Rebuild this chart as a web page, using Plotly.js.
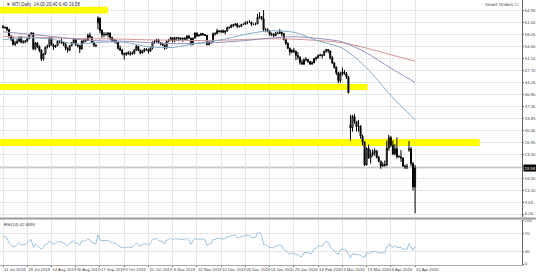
<!DOCTYPE html>
<html><head><meta charset="utf-8">
<script src="https://cdn.plot.ly/plotly-3.0.1.min.js"></script>
<style>html,body{margin:0;padding:0;background:#fff;}#chart{width:536px;height:273px;}</style>
</head><body><div id="chart"></div>
<script>
// ---- data ----
const symbolLabel = "WTI,Daily";
const openP = [60.4,60.2,60.2,59.6,57.6,56.8,55.3,55.6,56.2,57.3,
55.9,56.0,56.2,56.9,58.1,58.6,54.0,55.7,54.7,53.6,
51.1,52.5,54.5,54.9,57.1,55.2,54.5,54.9,56.2,56.3,
55.7,55.4,54.2,53.6,54.9,55.8,56.7,55.1,54.9,53.9,
56.3,56.3,56.5,57.9,57.4,55.8,55.1,61.5,62.9,59.3,
58.1,58.1,58.1,58.6,57.3,56.5,56.4,55.9,54.1,53.6,
52.6,52.4,52.8,52.7,52.6,52.6,53.6,54.7,53.6,52.8,
53.4,53.9,53.8,53.3,54.2,56.0,56.2,56.7,55.8,55.5,
55.1,54.2,56.2,56.5,57.2,56.4,57.2,57.2,56.9,56.8,
57.1,56.8,57.7,57.1,55.2,57.1,58.6,57.8,58.0,58.4,
58.1,57.9,55.2,56.0,56.1,58.4,58.4,59.2,59.0,59.2,
58.8,59.2,60.1,60.2,60.9,60.9,61.2,60.4,60.5,61.1,
61.1,61.7,61.7,61.7,61.1,61.1,61.2,63.1,63.3,62.7,
59.6,59.6,59.0,58.1,58.2,57.8,58.5,58.5,58.8,58.4,
56.7,55.6,54.2,53.1,53.5,53.3,52.1,51.6,50.1,49.6,
50.8,50.9,50.3,49.6,49.9,51.2,51.4,52.1,52.2,52.1,
53.3,53.8,53.4,51.4,49.9,48.7,47.1,44.8,46.8,47.2,
46.8,45.9,32.0,31.1,34.4,33.0,31.5,31.7,28.7,27.0,
20.4,25.2,22.4,23.4,24.0,24.5,22.6,21.5,20.1,20.5,
20.3,25.3,28.3,26.1,23.6,25.1,22.8,22.8,22.4,20.1,
19.9,24.8,25.0,20.8,14.0];
const highP = [60.9,60.5,60.4,59.8,58.0,57.5,56.3,56.8,57.4,57.7,
56.5,56.5,57.2,58.2,58.8,58.7,56.0,55.9,55.0,53.9,
52.8,54.6,55.2,57.4,57.3,55.5,55.2,56.5,56.6,56.9,
56.0,55.9,54.5,55.1,56.0,56.9,56.8,55.3,55.0,56.4,
57.0,56.9,58.4,58.7,57.6,56.2,55.3,63.4,63.0,59.7,
58.9,58.8,58.8,58.7,57.5,56.9,56.7,56.0,54.9,54.0,
52.9,53.0,53.4,53.3,53.3,54.0,55.1,54.8,53.8,53.7,
54.2,54.2,54.1,54.5,56.1,56.5,56.9,56.9,55.9,55.8,
55.2,56.3,56.8,57.5,57.3,57.5,57.4,57.3,57.4,57.2,
57.3,57.9,58.0,57.2,57.2,58.7,58.7,58.2,58.5,58.6,
58.3,58.0,56.2,56.3,58.7,58.8,59.8,59.4,59.4,59.6,
59.3,60.4,60.5,61.0,61.2,61.4,61.5,60.8,61.2,61.3,
61.9,62.0,62.3,61.9,61.3,61.6,64.1,64.6,63.5,65.2,
60.0,59.9,59.3,58.7,58.6,58.9,59.0,59.7,59.0,58.6,
56.9,55.9,54.3,53.9,54.3,53.5,53.1,51.8,50.9,51.3,
51.6,51.1,50.5,50.4,51.4,51.8,52.3,52.6,52.4,53.5,
54.0,53.9,53.5,51.9,50.2,48.9,47.4,47.4,48.6,47.9,
47.3,46.1,34.9,34.9,35.1,33.1,33.4,31.8,29.2,27.3,
25.5,26.3,24.8,24.9,25.2,24.6,23.0,21.6,21.2,21.7,
27.4,29.1,28.8,27.5,26.4,28.4,23.2,24.7,22.6,20.5,
20.7,27.3,25.6,21.2,20.4];
const lowP = [59.9,59.7,59.1,57.2,56.2,55.0,54.8,55.5,55.9,55.6,
55.5,55.6,55.9,56.8,57.9,53.6,53.6,54.2,53.0,50.5,
50.6,52.3,54.1,54.4,54.9,53.7,54.3,54.8,55.6,55.5,
54.8,53.6,52.9,53.4,54.7,55.6,54.9,54.4,52.8,53.8,
55.6,55.9,56.4,57.2,55.6,54.5,54.5,59.6,58.5,57.2,
57.4,57.9,57.3,56.6,55.9,55.7,55.4,53.8,53.4,52.1,
50.9,52.0,52.2,52.0,52.3,52.4,53.5,53.3,52.4,52.6,
53.0,53.4,52.6,53.1,53.8,55.4,55.8,55.6,55.0,54.8,
53.7,54.1,55.9,56.3,55.8,55.9,56.3,56.2,56.5,56.0,
56.5,56.6,56.9,55.0,55.1,56.9,57.4,57.5,57.7,57.8,
57.7,55.0,55.0,55.4,56.0,57.8,58.2,58.7,58.5,58.6,
58.2,58.9,59.8,60.0,60.3,60.6,60.1,60.2,60.3,61.0,
61.0,61.1,61.5,60.6,61.0,60.8,61.2,62.7,62.3,59.0,
58.8,58.8,57.8,57.7,57.4,57.7,58.3,58.3,57.7,56.4,
55.1,53.9,52.1,52.7,52.8,50.7,50.9,49.4,49.3,49.3,
50.3,49.9,49.3,49.4,49.9,50.6,51.1,51.8,51.2,52.0,
52.9,52.8,50.9,49.7,48.3,46.4,44.0,44.2,46.2,46.5,
45.3,41.1,27.4,30.0,32.3,30.1,30.0,28.0,26.1,20.1,
20.3,22.2,20.8,22.8,23.1,22.3,21.2,19.3,19.9,19.9,
20.2,24.5,25.6,23.3,23.2,22.2,22.5,21.3,19.9,19.2,
19.2,24.2,20.0,13.0,6.4];
const closeP = [60.2,60.2,59.6,57.6,56.8,55.3,55.6,56.2,57.3,55.9,
56.0,56.2,56.9,58.1,58.6,54.0,55.7,54.7,53.6,51.1,
52.5,54.5,54.9,57.1,55.2,54.5,54.9,56.2,56.3,55.7,
55.4,54.2,53.6,54.9,55.8,56.7,55.1,54.9,53.9,56.3,
56.3,56.5,57.9,57.4,55.8,55.1,54.9,62.9,59.3,58.1,
58.1,58.1,58.6,57.3,56.5,56.4,55.9,54.1,53.6,52.6,
52.4,52.8,52.7,52.6,52.6,53.6,54.7,53.6,52.8,53.4,
53.9,53.8,53.3,54.2,56.0,56.2,56.7,55.8,55.5,55.1,
54.2,56.2,56.5,57.2,56.4,57.2,57.2,56.9,56.8,57.1,
56.8,57.7,57.1,55.2,57.1,58.6,57.8,58.0,58.4,58.1,
57.9,55.2,56.0,56.1,58.4,58.4,59.2,59.0,59.2,58.8,
59.2,60.1,60.2,60.9,60.9,61.2,60.4,60.5,61.1,61.1,
61.7,61.7,61.7,61.1,61.1,61.2,63.1,63.3,62.7,59.6,
59.6,59.0,58.1,58.2,57.8,58.5,58.5,58.8,58.4,56.7,
55.6,54.2,53.1,53.5,53.3,52.1,51.6,50.1,49.6,50.8,
50.9,50.3,49.6,49.9,51.2,51.4,52.1,52.2,52.1,53.3,
53.8,53.4,51.4,49.9,48.7,47.1,44.8,46.8,47.2,46.8,
45.9,41.3,31.1,34.4,33.0,31.5,31.7,28.7,27.0,20.4,
25.2,22.4,23.4,24.0,24.5,22.6,21.5,20.1,20.5,20.3,
25.3,28.3,26.1,23.6,25.1,22.8,22.8,22.4,20.1,19.9,
19.9,25.0,20.8,14.0,19.58];
// closes of the 15 sessions before the first bar (RSI warm-up)
const priorCloses = [57.07,57.43,57.90,57.83,59.38,59.43,58.47,59.09,56.25,57.34,57.50,57.51,57.66,57.83,60.43];

// moving averages read every 12 bars
const maSampleBars = [0,12,24,36,48,60,72,84,96,108,120,132,144,156,168,180,192,204];
const ma50  = [56.6,57.2,56.8,55.4,55.9,55.9,54.6,54.4,55.6,56.6,58.2,59.2,58.8,56.3,54.2,48.5,40.5,33.5];
const ma100 = [58.9,58.3,57.6,56.8,56.3,56.2,55.8,55.5,55.6,55.9,56.4,57.1,57.5,57.0,56.0,52.8,48.4,44.3];
const ma200 = [57.6,57.4,57.2,57.0,56.9,56.8,56.6,56.5,56.4,56.5,56.7,56.9,56.8,56.4,55.8,54.2,52.3,50.4];

// date labels every 12 bars
const dateTickBars = [0,12,24,36,48,60,72,84,96,108,120,132,144,156,168,180,192,204];
const dateTickText = ["11 Jul 2019","29 Jul 2019","14 Aug 2019","30 Aug 2019","17 Sep 2019","3 Oct 2019",
"21 Oct 2019","6 Nov 2019","22 Nov 2019","10 Dec 2019","26 Dec 2019","13 Jan 2020","29 Jan 2020",
"14 Feb 2020","3 Mar 2020","19 Mar 2020","6 Apr 2020","22 Apr 2020"];
const priceTickVals = [64.95,61.50,58.05,54.60,51.15,47.70,44.25,40.80,37.35,33.85,30.40,26.95,23.50,20.05,16.55,13.10,9.65,6.20];
// 20.05 sits under the current-price box, so its text is not shown
const priceTickText = ["64.95","61.50","58.05","54.60","51.15","47.70","44.25","40.80","37.35","33.85",
"30.40","26.95","23.50","","16.55","13.10","9.65","6.20"];
const rsiTicks = [0,30,70,100];

// horizontal zones (price bands) drawn on the chart
const zoneTop    = [66.2, 43.8, 27.9];
const zoneBottom = [64.2, 42.1, 25.9];
const zoneEndBar = [52, 180.5, 236];

// ---- derived ----
const bars = closeP.map((_, i) => i);
function wilderRSI(prior, closes, period) {
  const all = prior.concat(closes);
  let g = 0, l = 0;
  for (let i = 1; i <= period; i++) {
    const d = all[i] - all[i - 1];
    if (d > 0) g += d; else l -= d;
  }
  g /= period; l /= period;
  const out = [];
  for (let i = period + 1; i < all.length; i++) {
    const d = all[i] - all[i - 1];
    g = (g * (period - 1) + Math.max(d, 0)) / period;
    l = (l * (period - 1) + Math.max(-d, 0)) / period;
    out.push(l === 0 ? 100 : 100 - 100 / (1 + g / l));
  }
  return out;
}
const rsi = wilderRSI(priorCloses, closeP, 14);
const last = closeP.length - 1;

const grid = '#e6e6e6';
const fam = 'Liberation Sans, Arial, sans-serif';
const tickFont = {family: fam, size: 4.2, color: '#444'};

const traces = [
  {type: 'scatter', mode: 'lines', x: maSampleBars, y: ma200, line: {color: '#d59494', width: 1, shape: 'spline', smoothing: 0.8}, xaxis: 'x', yaxis: 'y'},
  {type: 'scatter', mode: 'lines', x: maSampleBars, y: ma100, line: {color: '#9a90bc', width: 1, shape: 'spline', smoothing: 0.8}, xaxis: 'x', yaxis: 'y'},
  {type: 'scatter', mode: 'lines', x: maSampleBars, y: ma50, line: {color: '#86aec6', width: 1, shape: 'spline', smoothing: 0.8}, xaxis: 'x', yaxis: 'y'},
  {type: 'candlestick', x: bars, open: openP, high: highP, low: lowP, close: closeP,
   increasing: {line: {color: '#000', width: 1}, fillcolor: '#fff'},
   decreasing: {line: {color: '#000', width: 1}, fillcolor: '#000'},
   whiskerwidth: 0, xaxis: 'x', yaxis: 'y'},
  {type: 'scatter', mode: 'lines', x: bars, y: rsi, line: {color: '#9cc4e0', width: 1}, xaxis: 'x2', yaxis: 'y2'}
];

const xRange = [-1.485, 256.93];
const shapes = [];
for (let i = 0; i < zoneTop.length; i++) {
  shapes.push({type: 'rect', xref: 'x', yref: 'y', x0: xRange[0], x1: zoneEndBar[i], y0: zoneBottom[i], y1: zoneTop[i],
    fillcolor: '#ffff00', line: {width: 0}, layer: 'between'});
}
shapes.push({type: 'line', xref: 'paper', yref: 'y', x0: 0, x1: 1, y0: closeP[last], y1: closeP[last], line: {color: '#b5b5b5', width: 1}, layer: 'between'});
shapes.push({type: 'rect', xref: 'paper', yref: 'paper', x0: 0, x1: 536/522, y0: 0.1717, y1: 0.1792, fillcolor: '#9c9c9c', line: {width: 0}});

const annotations = [
  {xref: 'paper', yref: 'paper', x: 0.008, y: 1, xanchor: 'left', yanchor: 'top', showarrow: false,
   text: '▼ ' + symbolLabel + '  ' + openP[last].toFixed(2) + ' ' + highP[last].toFixed(2) + ' ' + lowP[last].toFixed(2) + ' ' + closeP[last].toFixed(2),
   font: {family: fam, size: 4.5, color: '#333'}},
  {xref: 'paper', yref: 'paper', x: 0.997, y: 1, xanchor: 'right', yanchor: 'top', showarrow: false,
   text: 'Smart Orders ☐', font: {family: 'DejaVu Sans, sans-serif', size: 4.2, color: '#333'}},
  {xref: 'paper', yref: 'paper', x: 0.004, y: 0.1698, xanchor: 'left', yanchor: 'top', showarrow: false,
   text: 'RSI(14) ' + rsi[last].toFixed(4), font: {family: fam, size: 4.2, color: '#333'}},
  {xref: 'paper', yref: 'y', x: 1.002, y: closeP[last], xanchor: 'left', yanchor: 'middle', showarrow: false,
   text: closeP[last].toFixed(2), bgcolor: '#000', borderpad: 0.5,
   font: {family: fam, size: 4.2, color: '#fff'}}
];

const layout = {
  width: 536, height: 273,
  margin: {l: 0, r: 14, t: 0, b: 8, pad: 0},
  paper_bgcolor: '#fff', plot_bgcolor: '#fff',
  showlegend: false, hovermode: false,
  font: tickFont,
  xaxis: {domain: [0, 1], range: xRange, anchor: 'y', tickmode: 'array', tickvals: dateTickBars,
          showticklabels: false, ticks: '', showgrid: true, gridcolor: grid, gridwidth: 1,
          zeroline: false, showline: false, rangeslider: {visible: false}, fixedrange: true},
  yaxis: {domain: [0.1811, 1], range: [5.33, 68.13], side: 'right', anchor: 'x', tickmode: 'array',
          tickvals: priceTickVals, ticktext: priceTickText, ticks: 'outside', ticklen: 1,
          ticklabelstandoff: 0, tickcolor: '#666', showgrid: true, gridcolor: grid, zeroline: false, showline: true,
          linecolor: '#666', linewidth: 1, tickfont: tickFont, fixedrange: true},
  xaxis2: {domain: [0, 1], range: xRange, anchor: 'y2', tickmode: 'array', tickvals: dateTickBars,
           ticktext: dateTickText, ticks: 'outside', ticklen: 1, tickcolor: '#666', tickangle: 0,
           ticklabelstandoff: 0, ticklabelposition: 'outside right', showgrid: true, gridcolor: grid, zeroline: false,
           showline: true, linecolor: '#aaa', linewidth: 1, tickfont: tickFont, fixedrange: true},
  yaxis2: {domain: [0, 0.1698], range: [-2.3, 102.3], side: 'right', anchor: 'x2', tickmode: 'array',
           tickvals: rsiTicks, ticks: 'outside', ticklen: 1, ticklabelstandoff: 0, tickcolor: '#666', showgrid: true,
           gridcolor: grid, zeroline: false, showline: true, linecolor: '#666', linewidth: 1,
           tickfont: tickFont, fixedrange: true},
  shapes: shapes,
  annotations: annotations
};

Plotly.newPlot('chart', traces, layout, {staticPlot: true, displayModeBar: false});
</script>
</body></html>
